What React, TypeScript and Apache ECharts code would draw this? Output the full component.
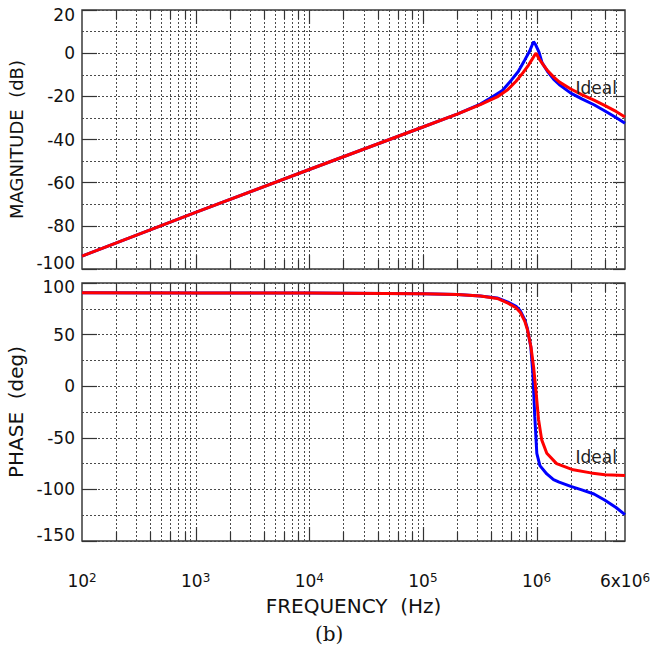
import React, { useEffect, useRef } from 'react';
import * as echarts from 'echarts';

const W = 653;
const H = 659;

// ---- data ----
const magIdealFreq = [1e2, 1e3, 1e4, 1e5, 2e5, 3.2e5, 4.5e5, 5.6e5, 6.6e5, 7.6e5, 8.5e5, 9.1e5, 9.7e5, 9.9e5, 1.05e6, 1.15e6, 1.26e6, 1.41e6, 1.58e6, 2e6, 2.5e6, 3.2e6, 4e6, 5e6, 6e6];
const magIdealDb = [-94, -73.8, -53.9, -34.2, -28.2, -23.8, -20.3, -16.8, -13, -9, -5.5, -3, -0.6, 0, -2.5, -5.5, -8.3, -11, -13.3, -16.6, -19.2, -21.8, -24.3, -27, -29.6];

const magMeasFreq = [1e2, 1e3, 1e4, 1e5, 2e5, 3.2e5, 4e5, 5e5, 6e5, 6.9e5, 7.9e5, 8.7e5, 9.4e5, 9.8e5, 1.05e6, 1.12e6, 1.26e6, 1.41e6, 1.58e6, 2e6, 2.5e6, 3.2e6, 4e6, 5e6, 6e6];
const magMeasDb = [-94, -73.8, -53.9, -34.2, -28.2, -23.6, -20.6, -17.3, -12.5, -8.5, -3, 1, 5.3, 4, 0.5, -4.5, -8.8, -12, -14.5, -18.5, -21.2, -23.9, -26.8, -29.8, -32.5];

const phIdealFreq = [1e2, 1e3, 1e4, 1e5, 2e5, 3.2e5, 4.5e5, 5.6e5, 6.6e5, 7.2e5, 7.9e5, 8.3e5, 8.9e5, 9.4e5, 9.85e5, 1.04e6, 1.11e6, 1.23e6, 1.5e6, 2.1e6, 3e6, 4e6, 6e6];
const phIdealDeg = [90.5, 90.4, 90.2, 89.6, 88.8, 87.3, 85, 80.5, 76, 71.5, 62.5, 55, 39, 19.5, -3, -32, -52, -65, -75, -81, -84, -85.8, -86.5];

const phMeasFreq = [1e2, 1e3, 1e4, 1e5, 2e5, 3.2e5, 4.5e5, 5.6e5, 6.6e5, 7.2e5, 7.9e5, 8.3e5, 8.9e5, 9.27e5, 9.64e5, 1.005e6, 1.07e6, 1.23e6, 1.41e6, 1.58e6, 2e6, 2.5e6, 3.2e6, 4e6, 5e6, 6e6];
const phMeasDeg = [90.5, 90.4, 90.2, 89.6, 88.8, 87.3, 85.5, 81.5, 77.5, 73, 64, 56, 38, 13, -29, -65, -77, -85, -90.5, -93, -97, -100.5, -104.5, -110.5, -117.5, -124.5];

// vertical grid lines (log minor + decades)
const xGridFreqs = [
  200, 300, 400, 500, 600, 700, 800, 900, 1000,
  2000, 3000, 4000, 5000, 6000, 7000, 8000, 9000, 10000,
  2e4, 3e4, 4e4, 5e4, 6e4, 7e4, 8e4, 9e4, 1e5,
  2e5, 3e5, 4e5, 5e5, 6e5, 7e5, 8e5, 9e5, 1e6,
  2e6, 3e6, 4e6, 5e6,
];

const FONT = 'DejaVu Sans';
const TXT = '#111';
const GRIDC = '#4a4a4a';

const pairs = (xs: number[], ys: number[]) => xs.map((x, i) => [x, ys[i]]);

function vGridRender(params: any, api: any) {
  const f = api.value(0);
  const x = Math.round(api.coord([f, api.value(1)])[0]) + 0.5;
  const cs = params.coordSys;
  const mant = Math.round(f / Math.pow(10, Math.floor(Math.log10(f) + 1e-9)));
  const children: any[] = [
    {
      type: 'line',
      shape: { x1: x, y1: cs.y, x2: x, y2: cs.y + cs.height },
      style: { stroke: GRIDC, lineWidth: 1, lineDash: [2, 2] },
    },
  ];
  const len = mant === 1 ? 14 : mant % 2 === 0 ? 9 : 0;
  if (len) {
    children.push({
      type: 'line',
      shape: { x1: x, y1: cs.y, x2: x, y2: cs.y + len },
      style: { stroke: '#333', lineWidth: 1.2 },
    });
    children.push({
      type: 'line',
      shape: { x1: x, y1: cs.y + cs.height - len, x2: x, y2: cs.y + cs.height },
      style: { stroke: '#333', lineWidth: 1.2 },
    });
  }
  return { type: 'group', children };
}

export default function App() {
  const ref = useRef<HTMLDivElement>(null);

  useEffect(() => {
    if (!ref.current) return;
    const chart = echarts.init(ref.current, null, { renderer: 'svg' });

    const gridBase = {
      left: 82,
      width: 543,
      show: true,
      borderColor: '#3a3a3a',
      borderWidth: 1.5,
      backgroundColor: 'transparent',
      containLabel: false,
      outerBoundsMode: 'none',
    };

    const xBase = {
      type: 'log',
      logBase: 10,
      min: 100,
      max: 6e6,
      axisLine: { show: false },
      axisTick: { show: false },
      splitLine: { show: false },
      minorTick: { show: false },
      minorSplitLine: { show: false },
    };

    const lblStyle = { fontFamily: FONT, fontSize: 17, color: TXT };

    const yLeft = (
      gi: number,
      min: number,
      max: number,
      interval: number,
      name: string,
      nameSize: number,
      nameGap: number,
      hiPad: number,
      loPad: number
    ) => ({
      type: 'value',
      gridIndex: gi,
      min,
      max,
      interval,
      name,
      nameLocation: 'middle',
      nameGap,
      nameTextStyle: { fontFamily: FONT, fontSize: nameSize, color: TXT },
      axisLine: { show: false },
      axisTick: { show: true, inside: true, length: 15, lineStyle: { color: '#333', width: 1.2 } },
      axisLabel: {
        ...lblStyle,
        margin: 7,
        formatter: (v: number) => {
          if (v === min) return '{lo|' + v + '}';
          if (v === max) return '{hi|' + v + '}';
          return String(v);
        },
        rich: {
          lo: { ...lblStyle, padding: [0, 0, loPad, 0] },
          hi: { ...lblStyle, padding: [hiPad, 0, 0, 0] },
        },
      },
      splitLine: { show: true, lineStyle: { color: GRIDC, width: 1, type: [2, 2] } },
      minorTick: { show: false, splitNumber: 2 },
      minorSplitLine: { show: true, lineStyle: { color: GRIDC, width: 1, type: [2, 2] } },
    });

    const yRight = (gi: number, min: number, max: number, interval: number) => ({
      type: 'value',
      gridIndex: gi,
      position: 'right',
      min,
      max,
      interval,
      axisLine: { show: false },
      axisTick: { show: true, inside: true, length: 12, lineStyle: { color: '#333', width: 1.2 } },
      axisLabel: { show: false },
      splitLine: { show: false },
    });

    const lineSeries = (xi: number, yi: number, data: number[][], color: string, z: number, extra: any = {}) => ({
      type: 'line',
      xAxisIndex: xi,
      yAxisIndex: yi,
      data,
      showSymbol: false,
      symbol: 'none',
      smooth: false,
      clip: true,
      z,
      lineStyle: { color, width: 3 },
      itemStyle: { color },
      ...extra,
    });

    const idealLabel = (coord: number[]) => ({
      markPoint: {
        symbol: 'rect',
        symbolSize: 0,
        silent: true,
        label: {
          show: true,
          position: 'inside',
          formatter: 'Ideal',
          fontFamily: FONT,
          fontSize: 17,
          color: '#222',
        },
        data: [{ coord }],
      },
    });

    const option: any = {
      animation: false,
      backgroundColor: '#ffffff',
      grid: [
        { ...gridBase, top: 10, height: 259 },
        { ...gridBase, top: 283, height: 258 },
      ],
      xAxis: [
        { ...xBase, gridIndex: 0, axisLabel: { show: false } },
        {
          ...xBase,
          gridIndex: 1,
          name: 'FREQUENCY  (Hz)',
          nameLocation: 'middle',
          nameGap: 55,
          nameTextStyle: { fontFamily: FONT, fontSize: 20, color: TXT },
          axisLabel: {
            show: true,
            showMinLabel: true,
            showMaxLabel: true,
            hideOverlap: false,
            margin: 31,
            fontFamily: FONT,
            fontSize: 17,
            color: TXT,
            formatter: (v: number) => {
              if (v > 5.5e6) return '6x10{s|6}';
              const e = Math.round(Math.log10(v));
              return '10{s|' + e + '}';
            },
            rich: {
              s: { fontFamily: FONT, fontSize: 12, color: TXT, verticalAlign: 'top', lineHeight: 12 },
            },
          },
        },
      ],
      yAxis: [
        yLeft(0, -100, 20, 20, 'MAGNITUDE  (dB)', 18, 45, 10, 12),
        yRight(0, -100, 20, 20),
        yLeft(1, -150, 100, 50, 'PHASE  (deg)', 20, 44, 8, 12),
        yRight(1, -150, 100, 50),
      ],
      series: [
        {
          type: 'custom',
          xAxisIndex: 0,
          yAxisIndex: 0,
          z: 1,
          silent: true,
          renderItem: vGridRender,
          data: xGridFreqs.map((f) => [f, -40]),
        },
        {
          type: 'custom',
          xAxisIndex: 1,
          yAxisIndex: 2,
          z: 1,
          silent: true,
          renderItem: vGridRender,
          data: xGridFreqs.map((f) => [f, 0]),
        },
        lineSeries(0, 0, pairs(magMeasFreq, magMeasDb), '#0000ff', 3),
        lineSeries(0, 0, pairs(magIdealFreq, magIdealDb), '#ff0000', 4, idealLabel([3.35e6, -16.1])),
        lineSeries(1, 2, pairs(phMeasFreq, phMeasDeg), '#0000ff', 3),
        lineSeries(1, 2, pairs(phIdealFreq, phIdealDeg), '#ff0000', 4, idealLabel([3.35e6, -68.5])),
      ],
      graphic: [
        {
          type: 'text',
          left: 315,
          top: 624,
          style: { text: '(b)', font: '20px "DejaVu Serif"', fill: '#111' },
        },
      ],
    };

    chart.setOption(option);
    return () => chart.dispose();
  }, []);

  return (
    <div
      ref={ref}
      style={{ position: 'absolute', left: 0, top: 0, width: W, height: H, background: '#fff' }}
    />
  );
}
